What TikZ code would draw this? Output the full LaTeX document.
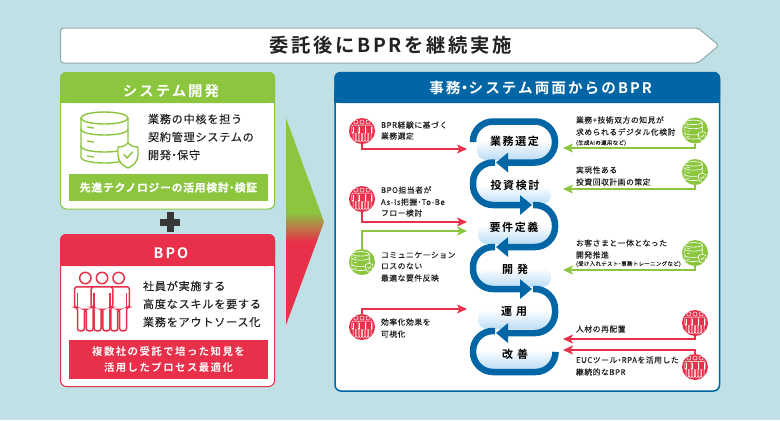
\documentclass[tikz,border=0pt]{standalone}
\usepackage{fontspec}
\usetikzlibrary{arrows.meta}
\newfontfamily\jp{Noto Sans CJK JP}[LetterSpace=7,FakeBold=0.2,BoldFont={Noto Sans CJK JP Bold}]
\newfontfamily\jpw{Noto Sans CJK JP}[LetterSpace=14,BoldFont={Noto Sans CJK JP Bold}]
\definecolor{bgc}{HTML}{BFE1E6}
\definecolor{grn}{HTML}{8CC63F}
\definecolor{redc}{HTML}{E8304A}
\definecolor{blu}{HTML}{0066A6}
\definecolor{ink}{HTML}{222222}
\definecolor{pale}{HTML}{BBDDF6}
\newcommand{\fsz}[1]{\fontsize{#1bp}{#1bp}\selectfont}
\newcommand{\nk}{\hspace{-.22em}・\hspace{-.22em}}
\newcommand{\onefig}[5]{% x offset, stroke, fill, lw, round
  \draw[draw=#2,line width=#4,fill=#3,rounded corners=#5] ({#1-11},30) -- ({#1-11},9) -- ({#1+11},9) -- ({#1+11},30) -- ({#1+8},30) -- ({#1+8},54) -- ({#1+1},54) -- ({#1+1},32) -- ({#1-1},32) -- ({#1-1},54) -- ({#1-8},54) -- ({#1-8},30) -- cycle;
  \draw[draw=#2,line width=#4] ({#1-8},15) -- ({#1-8},30) ({#1+8},15) -- ({#1+8},30);
  \draw[draw=#2,line width=#4,fill=#3] (#1,0) circle[radius=5.8];
}
\newcommand{\peoplemark}[6]{% x,y,scale,stroke,fill,lw
  \begin{scope}[shift={(#1,#2)},scale=#3]
    \onefig{-17}{#4}{#5}{#6}{#3*2.5bp}
    \onefig{17}{#4}{#5}{#6}{#3*2.5bp}
    \onefig{0}{#4}{#5}{#6}{#3*2.5bp}
  \end{scope}
}
\newcommand{\dbmark}[6]{% x,y,scale,stroke,fill,lw
  \begin{scope}[shift={(#1,#2)},scale=#3,line cap=round]
    \draw[draw=#4,line width=#6,fill=#5] (-23.5,-22) -- (-23.5,17) .. controls (-23.5,25) and (23.5,25) .. (23.5,17) -- (23.5,-22);
    \draw[draw=#4,line width=#6] (0,-22) ellipse[x radius=23.5,y radius=6];
    \foreach \yy in {-11,6} {\draw[draw=#4,line width=#6] (-23.5,\yy) .. controls (-23.5,\yy+8) and (23.5,\yy+8) .. (23.5,\yy);}
    \foreach \yy in {-12,2,17} {\draw[draw=#4,line width=#6] (-17,\yy-1) -- (-11,\yy);}
    \draw[draw=#4,line width=#6,fill=#5,line join=round] (23.5,3) .. controls (28,7) and (30,7) .. (33.5,7) -- (33.5,15) .. controls (33.5,22) and (28,26) .. (23.5,28) .. controls (19,26) and (13.5,22) .. (13.5,15) -- (13.5,7) .. controls (17,7) and (19,7) .. cycle;
    \draw[draw=#4,line width=#6] (19.5,14.5) -- (22.5,18) -- (28,12);
  \end{scope}
}
\tikzset{
  jtext/.style={inner sep=0pt,outer sep=0pt,text=ink,align=left,font=\jp\fsz{7.8}},
  small/.style={jtext,font=\jp\fsz{5.4}},
  body/.style={jtext,font=\jp\fsz{11.1}},
  stage/.style={inner sep=0pt,text=black,font=\jpw\bfseries\fsz{11}},
  head/.style={inner sep=0pt,text=white,font=\jpw\bfseries\fsz{14.4}},
  band/.style={inner sep=0pt,text=white,align=center,font=\jp\bfseries\fsz{10.8}},
  bandtext/.style={inner sep=0pt,text=white,align=center,font=\jpw\bfseries\fsz{10.4}},
  badge/.style={circle,minimum size=26bp,inner sep=0pt,outer sep=0pt},
  leadr/.style={redc,line width=1.3bp,-{Stealth[length=10bp,width=9bp,inset=2.5bp]}},
  leadg/.style={grn,line width=1.3bp,-{Stealth[length=10bp,width=9bp,inset=2.5bp]}},
  flow/.style={blu,line width=6.5bp,rounded corners=20bp},
  flowh/.style={flow,-{Triangle[length=12bp,width=19bp]}},
  glow/.style={top color=white,bottom color=pale,draw=none,rounded corners=9bp},
}
\begin{document}
\begin{tikzpicture}[x=1bp,y=-1bp]
\useasboundingbox (0,0) rectangle (780,420);
\fill[bgc] (0,0) rectangle (780,420);
% banner
\draw[draw=black!25!bgc,line width=1bp,fill=white,rounded corners=3bp] (60.5,28) -- (698,28) -- (719,45.5) -- (698,63) -- (60.5,63) -- cycle;
\node[inner sep=0pt,text=ink,font=\jpw\bfseries\fsz{19.3}] (title) at (390.5,45.5) {委託後にBPRを継続実施};
% green box
\draw[draw=grn,line width=1bp,fill=white,rounded corners=6bp] (60.5,72.5) rectangle (274.5,209);
\fill[grn,rounded corners=6bp] (60,72) -- (275,72) -- (275,103) -- (60,103) -- cycle;
\fill[grn] (60,90) rectangle (275,103);
\node[head] (sysh) at (171,91) {システム開発};
\dbmark{104.5}{140}{1}{grn}{white}{1.4bp}
\node[body,anchor=west] (s1) at (148,119) {業務の中核を担う};
\node[body,anchor=west] (s2) at (148,137) {契約管理システムの};
\node[body,anchor=west] (s3) at (148,155) {開発\nk 保守};
\fill[grn] (69,174) rectangle (268,201);
\node[band] (sysb) at (168.5,187.5) {先進テクノロジーの活用検討\nk 検証};
% plus
\fill[ink!90!white] (160,218.5) rectangle (180,225.5);
\fill[ink!90!white] (166.5,212) rectangle (173.5,232);
% red box
\draw[draw=redc,line width=1bp,fill=white,rounded corners=6bp] (60.5,234.5) rectangle (274.5,386.5);
\fill[redc,rounded corners=6bp] (60,234) -- (275,234) -- (275,266) -- (60,266) -- cycle;
\fill[redc] (60,250) rectangle (275,266);
\node[head] (bpoh) at (171,253) {BPO};
\peoplemark{102}{278}{0.98}{redc}{white}{1.5bp}
\node[body,anchor=west] (b1) at (143,286) {社員が実施する};
\node[body,anchor=west] (b2) at (143,304) {高度なスキルを要する};
\node[body,anchor=west] (b3) at (143,322) {業務をアウトソース化};
\fill[redc] (69,340) rectangle (268,379);
\node[bandtext] (bb1) at (168.5,352) {複数社の受託で培った知見を};
\node[bandtext] (bb2) at (168.5,368) {活用したプロセス最適化};
% big arrow
\begin{scope}
  \clip (286,118) -- (324,222) -- (286,325) -- cycle;
  \fill[grn] (286,118) rectangle (324,212);
  \shade[top color=grn,bottom color=redc] (286,212) rectangle (324,242);
  \fill[redc] (286,242) rectangle (324,325);
\end{scope}
% panel
\draw[draw=blu,line width=1.5bp,fill=white,rounded corners=6bp] (335,72.5) rectangle (719.5,391);
\fill[blu,rounded corners=6bp] (334.3,72) -- (720.2,72) -- (720.2,103) -- (334.3,103) -- cycle;
\fill[blu] (334.3,90) rectangle (720.2,103);
\node[head,font=\jpw\bfseries\fsz{14.6}] (panelh) at (540.5,88) {事務\nk システム両面からのBPR};
% stage glows
\shade[glow] (477,140) rectangle (552,160);
\shade[glow] (477,186) rectangle (551,204);
\shade[glow] (478,225) rectangle (551,244);
\shade[glow] (477,268) rectangle (551,287);
\shade[glow] (478,310) rectangle (551,329);
\shade[glow] (476,350) rectangle (552,369);
% coordinates
\coordinate (c1) at (473,142);
\coordinate (c2) at (496,162.5);
\coordinate (c3) at (532,205);
\coordinate (c4) at (496,247);
\coordinate (c5) at (532,289);
\coordinate (c6) at (496,333);
% flow
\draw[flowh] (c1) -- (473,121.5) -- (555,121.5) -- (555,162.5) -- (c2);
\draw[flowh] (495,162.5) -- (473,162.5) -- (473,205) -- (c3);
\draw[flowh] (533,205) -- (555,205) -- (555,247) -- (c4);
\draw[flowh] (495,247) -- (473,247) -- (473,289) -- (c5);
\draw[flowh] (533,289) -- (555,289) -- (555,333) -- (c6);
\draw[flow] (495,331) -- (473,331) -- (473,372) -- (555.5,372) -- (555.5,353);
% stage labels
\node[stage] (st1) at (514.5,141) {業務選定};
\node[stage] (st2) at (515,185) {投資検討};
\node[stage] (st3) at (514,227) {要件定義};
\node[stage] (st4) at (515,269) {開\hspace{4bp}発};
\node[stage] (st5) at (514,311) {運\hspace{4bp}用};
\node[stage] (st6) at (515,354) {改\hspace{4bp}善};
% badges
\node[badge,fill=redc] (L1) at (362,131) {};
\node[badge,fill=redc] (L2) at (362,199) {};
\node[badge,fill=grn] (L3) at (362,262) {};
\node[badge,fill=redc] (L4) at (362,327) {};
\node[badge,fill=grn] (R1) at (695,130.5) {};
\node[badge,fill=grn] (R2) at (695,172) {};
\node[badge,fill=grn] (R3) at (695,253) {};
\node[badge,fill=redc] (R4) at (695,323) {};
\node[badge,fill=redc] (R5) at (695,367) {};
\peoplemark{362}{122}{0.36}{white}{redc}{0.5bp}
\peoplemark{362}{190}{0.36}{white}{redc}{0.5bp}
\peoplemark{362}{318}{0.36}{white}{redc}{0.5bp}
\peoplemark{695}{314}{0.36}{white}{redc}{0.5bp}
\peoplemark{695}{358}{0.36}{white}{redc}{0.5bp}
\dbmark{360.5}{262}{0.37}{white}{grn}{0.6bp}
\dbmark{693.5}{130.5}{0.37}{white}{grn}{0.6bp}
\dbmark{693.5}{172}{0.37}{white}{grn}{0.6bp}
\dbmark{693.5}{253}{0.37}{white}{grn}{0.6bp}
% arrow ends
\coordinate (eL1) at (467,149);
\coordinate (eL2) at (467,222);
\coordinate (eL3) at (467,231);
\coordinate (eL4) at (467,309);
\coordinate (eR1) at (563,148);
\coordinate (eR2) at (563,189);
\coordinate (eR3) at (563,270);
\coordinate (eR4) at (563,339);
\coordinate (eR5) at (563,350);
\draw[leadr] (L1.south) |- (eL1);
\draw[leadr] (L2.south) |- (eL2);
\draw[leadg] (L3.north) |- (eL3);
\draw[leadr] (L4.north) |- (eL4);
\draw[leadg] (R1.south) |- (eR1);
\draw[leadg] (R2.south) |- (eR2);
\draw[leadg] (R3.south) |- (eR3);
\draw[leadr] (R4.south) |- (eR4);
\draw[leadr] (R5.north) |- (eR5);
% left texts
\node[jtext,anchor=west] (t1) at (381,125) {BPR経験に基づく};
\node[jtext,anchor=west] (t2) at (381,136) {業務選定};
\node[jtext,anchor=west] (t3) at (381,190) {BPO担当者が};
\node[jtext,anchor=west] (t4) at (381,202) {As-Is把握\nk To-Be};
\node[jtext,anchor=west] (t5) at (381,213) {フロー検討};
\node[jtext,anchor=west] (t6) at (381,255) {コミュニケーション};
\node[jtext,anchor=west] (t7) at (381,266) {ロスのない};
\node[jtext,anchor=west] (t8) at (381,278) {最適な要件反映};
\node[jtext,anchor=west] (t9) at (381,322) {効率化効果を};
\node[jtext,anchor=west] (t10) at (381,334) {可視化};
% right texts
\node[jtext,anchor=west] (u1) at (576,120) {業務+技術双方の知見が};
\node[jtext,anchor=west] (u2) at (576,132) {求められるデジタル化検討};
\node[small,anchor=west] (u3) at (576,143) {(生成AIの運用など)};
\node[jtext,anchor=west] (u4) at (576,170) {実現性ある};
\node[jtext,anchor=west] (u5) at (576,182) {投資回収計画の策定};
\node[jtext,anchor=west] (u6) at (576,243) {お客さまと一体となった};
\node[jtext,anchor=west] (u7) at (576,255) {開発推進};
\node[small,anchor=west] (u8) at (576,264) {(受け入れテスト\nk 事務トレーニングなど)};
\node[jtext,anchor=west] (u9) at (576,329) {人材の再配置};
\node[jtext,anchor=west] (u10) at (576,360) {EUCツール\nk RPAを活用した};
\node[jtext,anchor=west] (u11) at (576,372) {継続的なBPR};
\end{tikzpicture}
\end{document}
